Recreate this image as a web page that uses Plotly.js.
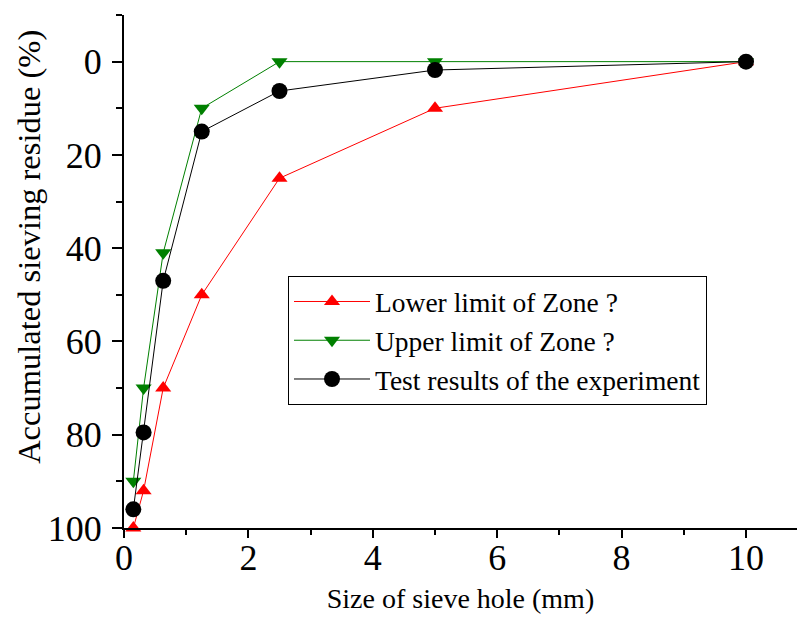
<!DOCTYPE html>
<html>
<head>
<meta charset="utf-8">
<script src="https://cdn.plot.ly/plotly-3.0.1.min.js"></script>
<style>html,body{margin:0;padding:0;background:#fff;}#chart{width:797px;height:619px;}</style>
</head>
<body>
<div id="chart"></div>
<script>
var sieveSize = [0.15, 0.315, 0.63, 1.25, 2.5, 5, 10];
var lowerLimit = [100, 92, 70, 50, 25, 10, 0];
var upperLimit = [90, 70, 41, 10, 0, 0, 0];
var testResults = [96, 79.5, 47, 15, 6.3, 1.8, 0];
var seriesNames = ['Lower limit of Zone ?', 'Upper limit of Zone ?', 'Test results of the experiment'];
var xTickVals = [0, 2, 4, 6, 8, 10];
var yTickVals = [0, 20, 40, 60, 80, 100];
var xTitle = 'Size of sieve hole (mm)';
var yTitle = 'Accumulated sieving residue (%)';

var font = "'Liberation Serif', 'Times New Roman', serif";
var traces = [
  {x: sieveSize, y: lowerLimit, name: seriesNames[0], mode: 'lines+markers', cliponaxis: false,
   line: {color: '#ff0000', width: 1}, marker: {symbol: 'triangle-up', size: 14, color: '#ff0000'}},
  {x: sieveSize, y: upperLimit, name: seriesNames[1], mode: 'lines+markers', cliponaxis: false,
   line: {color: '#008000', width: 1}, marker: {symbol: 'triangle-down', size: 14, color: '#008000'}},
  {x: sieveSize, y: testResults, name: seriesNames[2], mode: 'lines+markers', cliponaxis: false,
   line: {color: '#000000', width: 1}, marker: {symbol: 'circle', size: 16, color: '#000000'}}
];
var layout = {
  width: 797, height: 619,
  margin: {l: 124, r: 0, t: 15, b: 91},
  paper_bgcolor: '#fff', plot_bgcolor: '#fff',
  font: {family: font, color: '#000'},
  showlegend: true,
  legend: {x: 0.2437, y: 0.491, xanchor: 'left', yanchor: 'top',
    bgcolor: '#fff', bordercolor: '#000', borderwidth: 1, itemwidth: 76,
    font: {family: font, size: 27.5, color: '#000'}, tracegroupgap: 0},
  xaxis: {range: [0, 10.82], tickvals: xTickVals, showgrid: false, zeroline: false,
    showline: true, linecolor: '#000', linewidth: 2, ticks: 'outside', ticklen: 8, tickwidth: 2, tickcolor: '#000',
    minor: {dtick: 1, tick0: 0, ticks: 'outside', ticklen: 5, tickwidth: 2, tickcolor: '#000', showgrid: false},
    tickfont: {family: font, size: 36, color: '#000'}, ticklabelstandoff: -11,
    title: {text: xTitle, font: {family: font, size: 28, color: '#000'}, standoff: 11}},
  yaxis: {range: [100, -10], tickvals: yTickVals, showgrid: false, zeroline: false,
    showline: true, linecolor: '#000', linewidth: 2, ticks: 'outside', ticklen: 10, tickwidth: 2, tickcolor: '#000',
    minor: {dtick: 10, tick0: 0, ticks: 'outside', ticklen: 6, tickwidth: 2, tickcolor: '#000', showgrid: false},
    tickfont: {family: font, size: 36, color: '#000'}, ticklabelstandoff: 3},
  annotations: [{text: yTitle, xref: 'paper', yref: 'paper', x: -0.1412, y: 0.548,
    xanchor: 'center', yanchor: 'middle', textangle: -90, showarrow: false,
    font: {family: font, size: 32.5, color: '#000'}}]
};
Plotly.newPlot('chart', traces, layout, {displayModeBar: false, staticPlot: true});
</script>
</body>
</html>
